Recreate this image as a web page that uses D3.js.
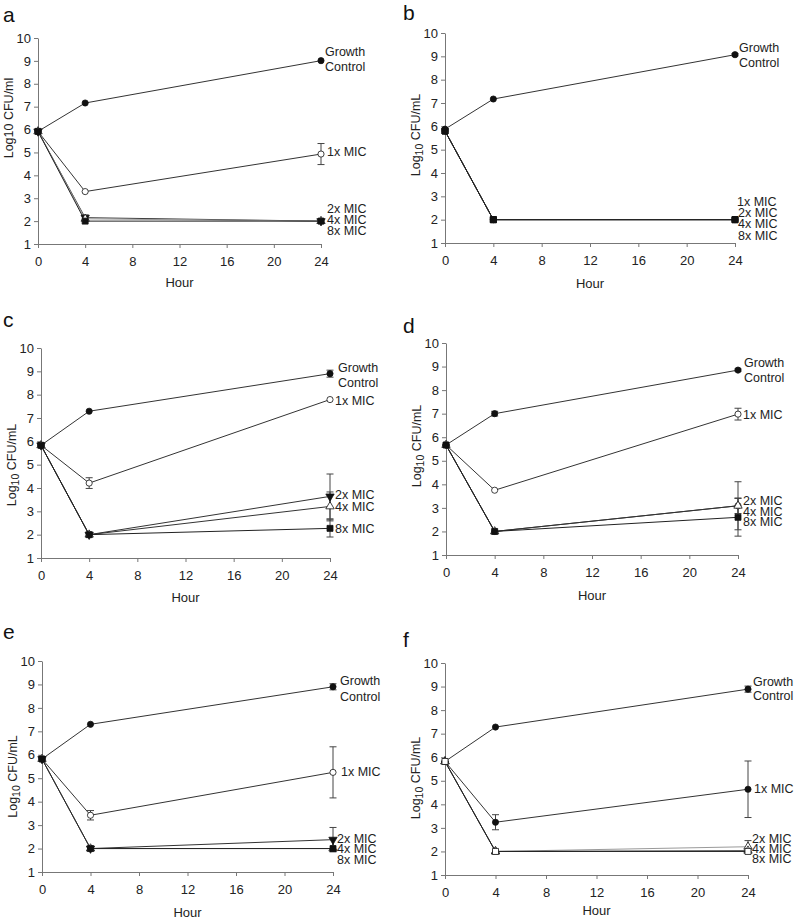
<!DOCTYPE html>
<html>
<head>
<meta charset="utf-8">
<script src="https://cdn.jsdelivr.net/npm/d3@7"></script>
<style>
body { margin: 0; background: #fff; }
svg { display: block; font-family: "Liberation Sans", Arial, sans-serif; }
</style>
</head>
<body>
<div id="chart-area"></div>
<script>
// time points and axis ticks
var hours = [0, 4, 24];
var xTicks = [0, 4, 8, 12, 16, 20, 24];
var yTicks = [1, 2, 3, 4, 5, 6, 7, 8, 9, 10];
var seriesNames = ["Growth Control", "1x MIC", "2x MIC", "4x MIC", "8x MIC"];
var labelTexts = ["Growth", "Control", "1x MIC", "2x MIC", "4x MIC", "8x MIC"];
var panelLetters = ["a", "b", "c", "d", "e", "f"];

// log10 CFU per series (rows) at each hour (cols)
var valuesA = [[5.92, 7.16, 9.01], [5.92, 3.29, 4.93], [5.92, 2.15, 2.0], [5.92, 2.1, 2.0], [5.92, 2.0, 2.0]];
var errorsA = [[0, 0, 0], [0, 0, 0.46], [0, 0.12, 0], [0, 0, 0], [0, 0, 0]];
var valuesB = [[5.88, 7.17, 9.07], [5.8, 2.0, 2.0], [5.8, 2.0, 2.0], [5.8, 2.0, 2.0], [5.8, 2.0, 2.0]];
var errorsB = [[0, 0, 0.05], [0, 0, 0], [0, 0, 0], [0, 0, 0], [0, 0, 0]];
var valuesC = [[5.83, 7.29, 8.9], [5.83, 4.21, 7.79], [5.83, 2.0, 3.64], [5.83, 2.0, 3.21], [5.83, 2.0, 2.27]];
var errorsC = [[0, 0, 0.15], [0, 0.23, 0], [0, 0, 0.96], [0, 0, 0.62], [0, 0, 0.37]];
var valuesD = [[5.67, 7.0, 8.85], [5.67, 3.75, 6.98], [5.67, 2.0, 3.09], [5.67, 2.0, 3.09], [5.67, 2.0, 2.6]];
var errorsD = [[0, 0.1, 0.05], [0, 0, 0.25], [0, 0, 1.02], [0, 0, 0.33], [0, 0, 0.8]];
var valuesE = [[5.82, 7.3, 8.9], [5.82, 3.42, 5.25], [5.82, 2.0, 2.38], [5.82, 2.0, 2.0], [5.82, 2.0, 2.0]];
var errorsE = [[0, 0, 0.13], [0, 0.2, 1.09], [0, 0, 0.52], [0, 0, 0], [0, 0, 0]];
var valuesF = [[5.82, 7.28, 8.89], [5.82, 3.24, 4.64], [5.82, 2.0, 2.2], [5.82, 2.0, 2.03], [5.82, 2.0, 2.0]];
var errorsF = [[0, 0, 0.13], [0, 0.32, 1.2], [0, 0, 0.26], [0, 0, 0], [0, 0, 0]];

var panelValues = [valuesA, valuesB, valuesC, valuesD, valuesE, valuesF];
var panelErrors = [errorsA, errorsB, errorsC, errorsD, errorsE, errorsF];

// layout of each panel on the page (pixels), label heights in data units
var layout = [
    { x0: 38, x1: 321, yTop: 38, yBot: 244, letterX: 3, letterY: 22, hourY: 287, ylabShift: -23, unit: "ml", sub: false,
      dxGrowth: 4, dx1: 6, dxRest: 6, labelY: [9.4, 8.77, 5.02, 2.55, 2.07, 1.59],
      colors: ["#333", "#333", "#333", "#9a9a9a", "#222"], markers: ["circle", "circleOpen", "triDown", "triOpen", "square"] },
    { x0: 445, x1: 735, yTop: 33, yBot: 243, letterX: 403, letterY: 20, hourY: 288, ylabShift: -3, unit: "mL", sub: true,
      dxGrowth: 4, dx1: 2, dxRest: 3, labelY: [9.36, 8.71, 2.76, 2.29, 1.84, 1.33],
      colors: ["#333", "#333", "#333", "#333", "#222"], markers: ["circle", "circle", "square", "square", "square"] },
    { x0: 41, x1: 330, yTop: 348, yBot: 558, letterX: 3, letterY: 327, hourY: 602, ylabShift: 12, unit: "mL", sub: true,
      dxGrowth: 8, dx1: 5, dxRest: 5, labelY: [9.14, 8.5, 7.73, 3.72, 3.19, 2.24],
      colors: ["#333", "#333", "#333", "#333", "#222"], markers: ["circle", "circleOpen", "triDown", "triOpen", "square"] },
    { x0: 446, x1: 738, yTop: 343, yBot: 555, letterX: 403, letterY: 333, hourY: 600, ylabShift: -3, unit: "mL", sub: true,
      dxGrowth: 6, dx1: 5, dxRest: 5, labelY: [9.15, 8.51, 6.98, 3.29, 2.85, 2.42],
      colors: ["#333", "#333", "#333", "#333", "#222"], markers: ["circle", "circleOpen", "circleOpen", "triOpen", "square"] },
    { x0: 42, x1: 333, yTop: 661, yBot: 872, letterX: 3, letterY: 639, hourY: 917, ylabShift: 10, unit: "mL", sub: true,
      dxGrowth: 7, dx1: 8, dxRest: 4, labelY: [9.15, 8.5, 5.27, 2.43, 1.98, 1.51],
      colors: ["#333", "#333", "#333", "#9a9a9a", "#222"], markers: ["circle", "circleOpen", "triDown", "triOpen", "square"] },
    { x0: 445, x1: 748, yTop: 663, yBot: 875, letterX: 403, letterY: 647, hourY: 915, ylabShift: 9, unit: "mL", sub: true,
      dxGrowth: 5, dx1: 6, dxRest: 4, labelY: [9.23, 8.6, 4.65, 2.55, 2.12, 1.7],
      colors: ["#333", "#333", "#9a9a9a", "#333", "#222"], markers: ["circle", "circle", "triOpen", "triOpen", "squareOpen"] }
];

var width = 800, height = 920;
var svg = d3.select("#chart-area")
    .append("svg")
        .attr("width", width)
        .attr("height", height);

function symbolFor(kind) {
    if (kind.indexOf("circle") === 0) return d3.symbol().type(d3.symbolCircle).size(30)();
    if (kind.indexOf("square") === 0) return d3.symbol().type(d3.symbolSquare).size(36)();
    return d3.symbol().type(d3.symbolTriangle).size(30)();
}

layout.forEach(function(L, p) {
    var values = panelValues[p], errors = panelErrors[p];
    var g = svg.append("g");

    var x = d3.scaleLinear().domain([0, 24]).range([L.x0, L.x1]);
    var y = d3.scaleLinear().domain([1, 10]).range([L.yBot, L.yTop]);

    // axes
    var xAxis = g.append("g")
        .attr("transform", "translate(0," + L.yBot + ")")
        .call(d3.axisBottom(x).tickValues(xTicks).tickSize(4).tickPadding(9).tickSizeOuter(0));
    var yAxis = g.append("g")
        .attr("transform", "translate(" + L.x0 + ",0)")
        .call(d3.axisLeft(y).tickValues(yTicks).tickSize(4).tickPadding(3).tickSizeOuter(0));
    [xAxis, yAxis].forEach(function(ax) {
        ax.select(".domain").attr("stroke", "#777");
        ax.selectAll(".tick line").attr("stroke", "#777");
        ax.selectAll(".tick text").attr("fill", "#222").style("font-size", "13px")
            .style("font-family", "Liberation Sans, Arial, sans-serif");
    });
    xAxis.selectAll(".tick text").attr("dy", "0.71em");

    // panel letter
    g.append("text").attr("x", L.letterX).attr("y", L.letterY)
        .attr("fill", "#111").style("font-size", "21px").text(panelLetters[p]);

    // x label
    g.append("text").attr("x", (L.x0 + L.x1) / 2).attr("y", L.hourY)
        .attr("text-anchor", "middle").attr("fill", "#222").style("font-size", "13px").text("Hour");

    // y label
    var yl = g.append("text")
        .attr("transform", "translate(" + (L.x0 - 25) + "," + ((L.yTop + L.yBot) / 2 + L.ylabShift) + ") rotate(-90)")
        .attr("text-anchor", "middle").attr("fill", "#222").style("font-size", "12.5px");
    yl.append("tspan").text("Log");
    if (L.sub) {
        yl.append("tspan").attr("dy", 3).style("font-size", "10.5px").text("10");
        yl.append("tspan").attr("dy", -3).text(" CFU/" + L.unit);
    } else {
        yl.append("tspan").text("10 CFU/" + L.unit);
    }

    var line = d3.line()
        .x(function(d, i) { return x(hours[i]); })
        .y(function(d) { return y(d); });

    // lines
    values.forEach(function(vals, s) {
        g.append("path").datum(vals)
            .attr("d", line)
            .attr("fill", "none")
            .attr("stroke", L.colors[s])
            .attr("stroke-width", 1);
    });

    // error bars
    values.forEach(function(vals, s) {
        vals.forEach(function(v, i) {
            var e = errors[s][i];
            if (!e) return;
            var cx = x(hours[i]);
            var eb = g.append("g").attr("stroke", "#444").attr("stroke-width", 1);
            eb.append("line").attr("x1", cx).attr("x2", cx).attr("y1", y(v - e)).attr("y2", y(v + e));
            [v - e, v + e].forEach(function(t) {
                eb.append("line").attr("x1", cx - 3.5).attr("x2", cx + 3.5).attr("y1", y(t)).attr("y2", y(t));
            });
        });
    });

    // markers
    values.forEach(function(vals, s) {
        var kind = L.markers[s];
        var open = kind.indexOf("Open") > 0;
        g.selectAll(null).data(vals).enter()
            .append("path")
                .attr("d", symbolFor(kind))
                .attr("transform", function(d, i) {
                    return "translate(" + x(hours[i]) + "," + y(d) + ")" + (kind === "triDown" ? " rotate(180)" : "");
                })
                .attr("fill", open ? "#fff" : "#111")
                .attr("stroke", "#111")
                .attr("stroke-width", 0.8);
    });

    // series labels at the right
    labelTexts.forEach(function(t, k) {
        var dx = k < 2 ? L.dxGrowth : (k === 2 ? L.dx1 : L.dxRest);
        g.append("text")
            .attr("x", L.x1 + dx)
            .attr("y", y(L.labelY[k]))
            .attr("dy", "0.35em")
            .attr("fill", "#222")
            .style("font-size", "12.5px")
            .text(t);
    });
});
</script>
</body>
</html>
